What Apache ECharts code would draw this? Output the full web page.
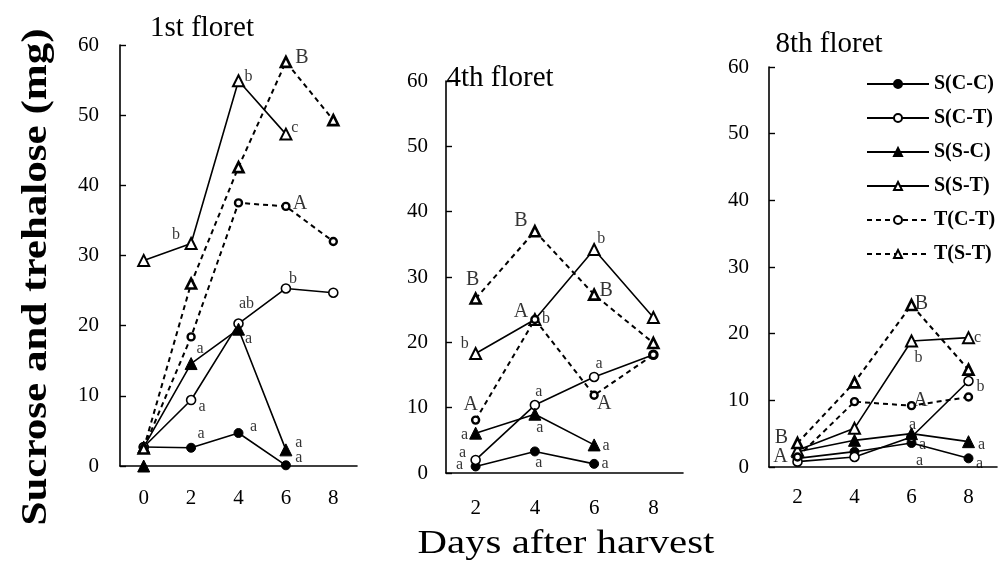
<!DOCTYPE html>
<html><head><meta charset="utf-8">
<script src="https://cdn.jsdelivr.net/npm/echarts@6/dist/echarts.min.js"></script>
<style>html,body{margin:0;padding:0;background:#fff}#c{width:1003px;height:568px}</style>
</head><body><div id="c"></div>
<script>
// ---------- DATA ----------
const panelTitles = ['1st floret', '4th floret', '8th floret'];
const yTitle = 'Sucrose and trehalose (mg)';
const xTitle = 'Days after harvest';
const seriesNames = ['S(C-C)', 'S(C-T)', 'S(S-C)', 'S(S-T)', 'T(C-T)', 'T(S-T)'];
const days1 = ['0', '2', '4', '6', '8'];
const days2 = ['2', '4', '6', '8'];
const days3 = ['2', '4', '6', '8'];
const yTicks = [0, 10, 20, 30, 40, 50, 60];

// 1st floret
const SCC1 = [2.7, 2.6, 4.7, 0.1, null];
const SCT1 = [2.7, 9.4, 20.3, 25.3, 24.7];
const SSC1 = [2.7, 14.6, 19.5, 2.3, null];
const SST1 = [29.3, 31.7, 54.9, 47.3, null];
const TCT1 = [2.5, 18.4, 37.5, 37.0, 32.0];
const TST1 = [2.5, 26.0, 42.6, 57.6, 49.3];
const lone1 = [0, null, null, null, null]; // solitary filled triangle at day 0

// 4th floret
const SCC2 = [1.0, 3.3, 1.4, null];
const SCT2 = [2.0, 10.4, 14.7, 18.1];
const SSC2 = [6.1, 9.0, 4.3, null];
const SST2 = [18.3, 23.5, 34.2, 23.8];
const TCT2 = [8.1, 23.5, 11.9, 18.1];
const TST2 = [26.7, 37.0, 27.3, 19.9];

// 8th floret
const SCC3 = [1.3, 2.3, 3.6, 1.3];
const SCT3 = [0.8, 1.5, 4.5, 12.9];
const SSC3 = [2.3, 4.0, 5.0, 3.8];
const SST3 = [2.5, 5.8, 18.9, 19.4];
const TCT3 = [1.5, 9.8, 9.2, 10.5];
const TST3 = [3.6, 12.7, 24.3, 14.6];

// significance letters: [series, day index, letter]
const ann1 = [
  ['S(S-T)', 1, 'b'], ['S(S-T)', 2, 'b'], ['S(S-T)', 3, 'c'], ['T(S-T)', 3, 'B'],
  ['T(C-T)', 3, 'A'], ['S(C-T)', 3, 'b'], ['S(C-T)', 2, 'ab'], ['S(S-C)', 2, 'a'],
  ['S(S-C)', 1, 'a'], ['S(C-T)', 1, 'a'], ['S(C-C)', 1, 'a'], ['S(C-C)', 2, 'a'],
  ['S(S-C)', 3, 'a'], ['S(C-C)', 3, 'a']
];
const ann2 = [
  ['T(S-T)', 0, 'B'], ['S(S-T)', 0, 'b'], ['T(C-T)', 0, 'A'], ['S(S-C)', 0, 'a'],
  ['S(C-T)', 0, 'a'], ['S(C-C)', 0, 'a'], ['T(S-T)', 1, 'B'], ['T(C-T)', 1, 'A'],
  ['S(S-T)', 1, 'b'], ['S(C-T)', 1, 'a'], ['S(S-C)', 1, 'a'], ['S(C-C)', 1, 'a'],
  ['S(S-T)', 2, 'b'], ['T(S-T)', 2, 'B'], ['S(C-T)', 2, 'a'], ['T(C-T)', 2, 'A'],
  ['S(S-C)', 2, 'a'], ['S(C-C)', 2, 'a']
];
const ann3 = [
  ['T(S-T)', 0, 'B'], ['T(C-T)', 0, 'A'], ['T(S-T)', 2, 'B'], ['S(S-T)', 2, 'b'],
  ['S(S-T)', 3, 'c'], ['T(C-T)', 2, 'A'], ['S(C-T)', 3, 'b'], ['S(S-C)', 2, 'a'],
  ['S(C-C)', 2, 'a'], ['S(C-T)', 2, 'a'], ['S(S-C)', 3, 'a'], ['S(C-C)', 3, 'a']
];

// ---------- LAYOUT / STYLE ----------
const annOff1 = [[-15,-9],[10,-4],[9,-6],[16,-4],[14,-3],[7,-10],[8,-20],[10,10],[9,-15],[11,7],[10,-14],[15,-6],[13,-7],[13,-8]];
const annOff2 = [[-3,-19],[-11,-10],[-5,-15],[-11,2],[-13,-7],[-16,-2],[-14,-11],[-14,-8],[11,-1],[4,-13],[5,14],[4,11],[7,-11],[12,-4],[5,-13],[10,8],[12,1],[11,0]];
const annOff3 = [[-16,-5],[-17,0],[10,-1],[7,17],[9,0],[9,-5],[12,6],[1,-9],[11,2],[8,24],[13,3],[11,5]];

const FONT = 'Liberation Serif, Times New Roman, serif';
const sty = {
  'S(C-C)': {symbol: 'circle', size: 9, fill: '#000', bw: 1, dash: 'solid', lw: 1.6},
  'S(C-T)': {symbol: 'circle', size: 9, fill: '#fff', bw: 1.6, dash: 'solid', lw: 1.6},
  'S(S-C)': {symbol: 'triangle', size: 12, fill: '#000', bw: 1, dash: 'solid', lw: 1.6},
  'S(S-T)': {symbol: 'triangle', size: 11, fill: '#fff', bw: 2, dash: 'solid', lw: 1.6},
  'T(C-T)': {symbol: 'circle', size: 7, fill: '#fff', bw: 2.4, dash: [5, 4], lw: 2},
  'T(S-T)': {symbol: 'triangle', size: 10, fill: '#fff', bw: 2.6, dash: [5, 4], lw: 2}
};

const panels = [
  {cats: days1, data: {'S(C-C)': SCC1, 'S(C-T)': SCT1, 'S(S-C)': SSC1, 'S(S-T)': SST1, 'T(C-T)': TCT1, 'T(S-T)': TST1}, ann: ann1, off: annOff1,
   grid: {left: 120, top: 45, width: 237, height: 421}, xMargin: 22, yMargin: 21},
  {cats: days2, data: {'S(C-C)': SCC2, 'S(C-T)': SCT2, 'S(S-C)': SSC2, 'S(S-T)': SST2, 'T(C-T)': TCT2, 'T(S-T)': TST2}, ann: ann2, off: annOff2,
   grid: {left: 446, top: 81, width: 237, height: 392}, xMargin: 25, yMargin: 18},
  {cats: days3, data: {'S(C-C)': SCC3, 'S(C-T)': SCT3, 'S(S-C)': SSC3, 'S(S-T)': SST3, 'T(C-T)': TCT3, 'T(S-T)': TST3}, ann: ann3, off: annOff3,
   grid: {left: 769, top: 67, width: 228, height: 400}, xMargin: 20, yMargin: 20}
];

const grids = [], xAxes = [], yAxes = [], series = [];
panels.forEach((p, i) => {
  grids.push(p.grid);
  xAxes.push({
    type: 'category', gridIndex: i, data: p.cats, boundaryGap: true,
    axisLine: {lineStyle: {color: '#000', width: 1.6}},
    axisTick: {inside: true, length: 7, lineStyle: {color: '#000', width: 1.4}},
    axisLabel: {color: '#000', fontFamily: FONT, fontSize: 21, margin: p.xMargin},
    splitLine: {show: false}
  });
  yAxes.push({
    type: 'value', gridIndex: i, min: yTicks[0], max: yTicks[yTicks.length - 1], interval: yTicks[1] - yTicks[0],
    axisLine: {show: true, lineStyle: {color: '#000', width: 1.6}},
    axisTick: {show: true, inside: true, length: 6, lineStyle: {color: '#000', width: 1.4}},
    axisLabel: {color: '#000', fontFamily: FONT, fontSize: 21, margin: p.yMargin},
    splitLine: {show: false}
  });
  seriesNames.forEach(name => {
    const s = sty[name];
    series.push({
      name: name, type: 'line', xAxisIndex: i, yAxisIndex: i,
      data: p.data[name], symbol: s.symbol, symbolSize: s.size, showAllSymbol: true,
      lineStyle: {color: '#000', width: s.lw, type: s.dash},
      itemStyle: {color: s.fill, borderColor: '#000', borderWidth: s.bw},
      emphasis: {disabled: true}, z: 3
    });
  });
  series.push({
    name: 'letters' + i, type: 'scatter', xAxisIndex: i, yAxisIndex: i,
    symbolSize: 1, itemStyle: {color: 'rgba(0,0,0,0)'}, silent: true, z: 5,
    label: {show: true, position: 'inside', color: '#000', fontFamily: FONT},
    data: p.ann.map((a, k) => ({
      value: [a[1], p.data[a[0]][a[1]]],
      label: {formatter: a[2], offset: p.off[k], fontSize: /[A-Z]/.test(a[2]) ? 20 : 16}
    }))
  });
});
series.push({
  name: 'lone', type: 'line', xAxisIndex: 0, yAxisIndex: 0, data: lone1,
  symbol: 'triangle', symbolSize: 12, showAllSymbol: true, lineStyle: {width: 0},
  itemStyle: {color: '#000', borderColor: '#000', borderWidth: 1}, z: 3
});

const titlePos = [[202, 28], [500, 78], [829, 44]];
const graphic = panelTitles.map((t, i) => ({
  type: 'text', x: titlePos[i][0], y: titlePos[i][1],
  style: {text: t, fill: '#000', font: '29px ' + FONT, textAlign: 'center', textVerticalAlign: 'middle', align: 'center', verticalAlign: 'middle'}
}));
graphic.push({
  type: 'text', x: 566, y: 544, scaleX: 1.2,
  style: {text: xTitle, fill: '#000', font: '34px ' + FONT, textAlign: 'center', textVerticalAlign: 'middle', align: 'center', verticalAlign: 'middle'}
});
graphic.push({
  type: 'text', x: 37, y: 277, rotation: Math.PI / 2, scaleX: 1.23,
  style: {text: yTitle, fill: '#000', font: 'bold 35px ' + FONT, textAlign: 'center', textVerticalAlign: 'middle', align: 'center', verticalAlign: 'middle'}
});

const chart = echarts.init(document.getElementById('c'));
chart.setOption({
  animation: false,
  backgroundColor: '#fff',
  grid: grids, xAxis: xAxes, yAxis: yAxes, series: series,
  legend: {
    data: seriesNames, orient: 'vertical', left: 861, top: 69,
    itemWidth: 62, itemHeight: 10, itemGap: 14, selectedMode: false,
    textStyle: {color: '#000', fontFamily: FONT, fontWeight: 'bold', fontSize: 20}
  },
  graphic: graphic
});
</script></body></html>
